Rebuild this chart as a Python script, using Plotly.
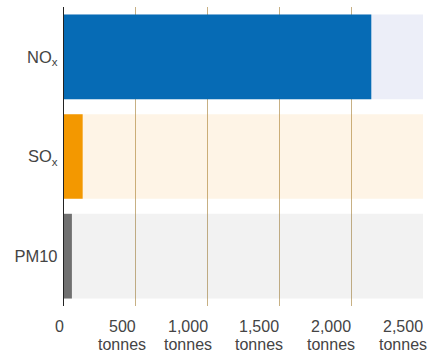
import plotly.graph_objects as go

categories = ["NO<sub>x</sub>", "SO<sub>x</sub>", "PM10"]
values = [2140, 130, 55]
max_values = [2500, 2500, 2500]
tick_vals = [0, 500, 1000, 1500, 2000, 2500]
tick_numbers = ["0", "500", "1,000", "1,500", "2,000", "2,500"]
tick_units = ["", "tonnes", "tonnes", "tonnes", "tonnes", "tonnes"]

bar_colors = ["#066BB5", "#F39800", "#707070"]
bg_colors = ["rgba(65,85,185,0.1)", "rgba(245,145,5,0.1)", "rgba(125,125,125,0.1)"]

FONT = "Liberation Sans, Arial, sans-serif"
FS = 16


def text_width(s, size=FS):
    # approximate Arial/Liberation Sans advance widths
    w = 0.0
    for ch in s:
        w += 0.278 if ch == "," else 0.556
    return w * size


fig = go.Figure()
fig.add_trace(go.Bar(y=categories, x=max_values, orientation="h",
                     marker=dict(color=bg_colors, line=dict(width=0)),
                     hoverinfo="skip", showlegend=False))
fig.add_trace(go.Bar(y=categories, x=values, orientation="h",
                     marker=dict(color=bar_colors, line=dict(width=0)),
                     showlegend=False))

annotations = []
for v, num, unit in zip(tick_vals, tick_numbers, tick_units):
    shift = -text_width(num) / 2
    annotations.append(dict(x=v, y=0, xref="x", yref="paper", text=num,
                            showarrow=False, xanchor="center", yanchor="middle",
                            xshift=shift, yshift=-20,
                            font=dict(family=FONT, size=FS, color="#444444")))
    if unit:
        annotations.append(dict(x=v, y=0, xref="x", yref="paper", text=unit,
                                showarrow=False, xanchor="center", yanchor="middle",
                                xshift=shift, yshift=-38,
                                font=dict(family=FONT, size=FS, color="#444444")))

fig.update_layout(
    width=429, height=356,
    margin=dict(l=64, r=6, t=7, b=50),
    barmode="overlay", bargap=0.15,
    plot_bgcolor="white", paper_bgcolor="white",
    font=dict(family=FONT, size=FS, color="#444444"),
    xaxis=dict(range=[0, 2500], tickvals=tick_vals, showticklabels=False,
               showgrid=True, gridcolor="#C7B084", gridwidth=1,
               zeroline=False, showline=False, ticks="", fixedrange=True),
    yaxis=dict(autorange="reversed", showline=True, linecolor="#222222", linewidth=1.3,
               ticks="", showgrid=False, ticklabelstandoff=2,
               tickfont=dict(family=FONT, size=16.5, color="#444444")),
    annotations=annotations,
)

fig.write_html("out.html")
